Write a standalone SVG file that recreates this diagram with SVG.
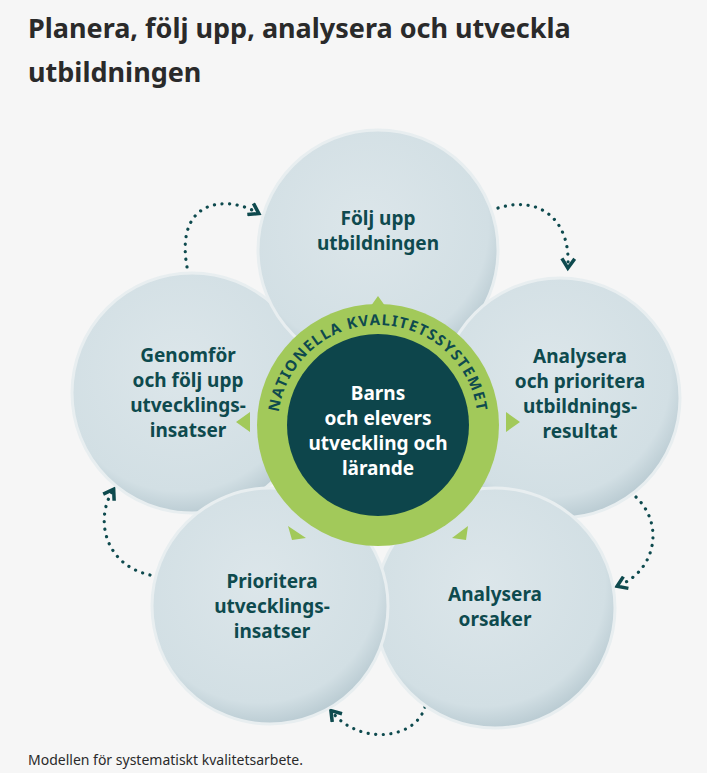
<svg xmlns="http://www.w3.org/2000/svg" width="707" height="773" viewBox="0 0 707 773">
<defs>
<radialGradient id="g" cx="0.45" cy="0.4" r="0.6"><stop offset="0" stop-color="#dce6ea"/><stop offset="0.85" stop-color="#d2dfe4"/><stop offset="1" stop-color="#bccdd4"/></radialGradient>
<marker id="ah" viewBox="0 0 10 10" refX="5" refY="5" markerWidth="5" markerHeight="5" orient="auto"><path d="M1,1 L7,5 L1,9" fill="none" stroke="#0e4a4e" stroke-width="2.2"/></marker>
<path id="tp" d="M278,425 A100,100 0 0 1 478,425"/>
</defs>
<style>
.c{fill:url(#g);stroke:#e8eef0;stroke-width:3}
.t{font-family:"Noto Sans","Open Sans",sans-serif;font-weight:bold;font-size:19px;fill:#0e4a4e;text-anchor:middle}
.d{fill:none;stroke:#0e4a4e;stroke-width:3.2;stroke-dasharray:0.1 7.5;stroke-linecap:round}
.ga{fill:#a2c95a}
</style>
<rect width="707" height="773" fill="#f6f6f6"/>
<text x="28" y="38" font-family="'Noto Sans','Open Sans',sans-serif" font-weight="bold" font-size="27" fill="#2a2a2a">Planera, följ upp, analysera och utveckla</text>
<text x="28" y="82" font-family="'Noto Sans','Open Sans',sans-serif" font-weight="bold" font-size="27" fill="#2a2a2a">utbildningen</text>
<g id="connectors">
<path class="d" d="M187,267 C175,200 225,195 256,212" marker-end="url(#ah)"/>
<path class="d" d="M498,208 C540,195 570,220 568,265" marker-end="url(#ah)"/>
<path class="d" d="M636,497 C665,525 655,570 620,585" marker-end="url(#ah)"/>
<path class="d" d="M425,707 C415,740 360,745 333,713" marker-end="url(#ah)"/>
<path class="d" d="M150,575 C105,565 95,520 112,492" marker-end="url(#ah)"/>
</g>
<g id="n-left"><circle class="c" cx="192" cy="393" r="120"/><text class="t" x="188" y="362">Genomför</text><text class="t" x="188" y="387">och följ upp</text><text class="t" x="188" y="412">utvecklings-</text><text class="t" x="188" y="437">insatser</text></g>
<g id="n-top"><circle class="c" cx="378" cy="250" r="120"/><text class="t" x="378" y="225">Följ upp</text><text class="t" x="378" y="250">utbildningen</text></g>
<g id="n-right"><circle class="c" cx="560" cy="398" r="120"/><text class="t" x="580" y="363">Analysera</text><text class="t" x="580" y="388">och prioritera</text><text class="t" x="580" y="413">utbildnings-</text><text class="t" x="580" y="438">resultat</text></g>
<g id="n-br"><circle class="c" cx="495" cy="608" r="120"/><text class="t" x="495" y="601">Analysera</text><text class="t" x="495" y="626">orsaker</text></g>
<g id="n-bl"><circle class="c" cx="270" cy="606" r="118"/><text class="t" x="272" y="588">Prioritera</text><text class="t" x="272" y="613">utvecklings-</text><text class="t" x="272" y="638">insatser</text></g>
<g id="center">
<circle cx="378" cy="425" r="121" fill="#a2c95a"/>
<path class="ga" d="M368,310 L378,296 L388,310 Z M506,412 L520,422 L506,432 Z M250,412 L236,422 L250,432 Z M288,526 L292,540 L306,538 Z M452,538 L466,540 L468,526 Z"/>
<circle cx="378" cy="425" r="91" fill="#0d454b"/>
<text font-family="'Noto Sans','Open Sans',sans-serif" font-weight="bold" font-size="15" fill="#0e4a4e" letter-spacing="1.3"><textPath href="#tp" startOffset="50%" text-anchor="middle">NATIONELLA KVALITETSSYSTEMET</textPath></text>
<text class="t" x="378" y="400" style="fill:#fff">Barns</text>
<text class="t" x="378" y="425" style="fill:#fff">och elevers</text>
<text class="t" x="378" y="450" style="fill:#fff">utveckling och</text>
<text class="t" x="378" y="475" style="fill:#fff">lärande</text>
</g>
<text x="28" y="765" font-family="'Noto Sans','Open Sans',sans-serif" font-size="14" fill="#2a2a2a">Modellen för systematiskt kvalitetsarbete.</text>
</svg>
